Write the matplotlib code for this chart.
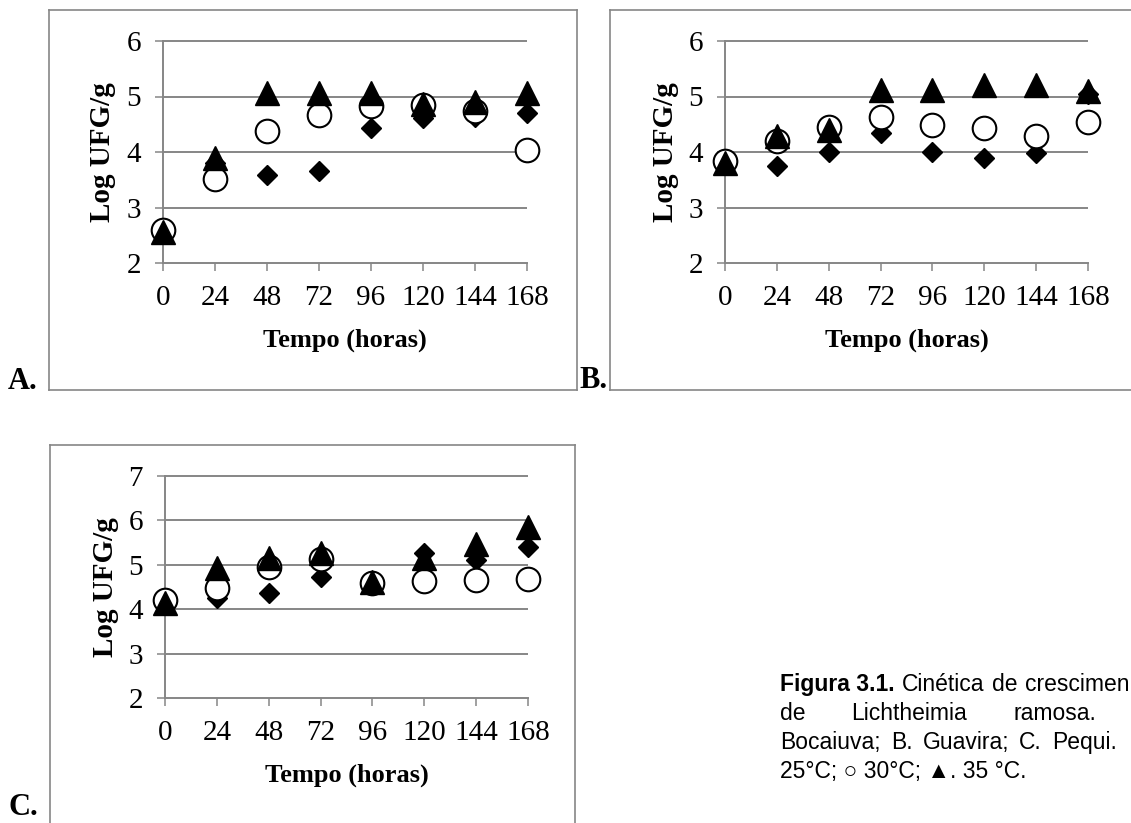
import matplotlib
matplotlib.use("Agg")
import matplotlib.pyplot as plt
from matplotlib.lines import Line2D

W, H = 1131, 823
hours = [0, 24, 48, 72, 96, 120, 144, 168]

A_25 = [2.55, 3.80, 3.59, 3.66, 4.43, 4.62, 4.63, 4.71]
A_30 = [2.59, 3.51, 4.38, 4.66, 4.83, 4.84, 4.73, 4.04]
A_35 = [2.55, 3.90, 5.07, 5.07, 5.07, 4.87, 4.90, 5.07]

B_25 = [3.80, 3.75, 4.00, 4.35, 4.00, 3.89, 3.98, 5.05]
B_30 = [3.83, 4.20, 4.45, 4.63, 4.48, 4.43, 4.29, 4.54]
B_35 = [3.80, 4.28, 4.40, 5.12, 5.12, 5.20, 5.20, 5.10]

C_25 = [4.20, 4.25, 4.36, 4.73, 4.60, 5.26, 5.11, 5.41]
C_30 = [4.20, 4.47, 4.96, 5.13, 4.59, 4.64, 4.66, 4.67]
C_35 = [4.15, 4.92, 5.15, 5.26, 4.62, 5.15, 5.47, 5.86]

A_yticks = [2, 3, 4, 5, 6]
B_yticks = [2, 3, 4, 5, 6]
C_yticks = [2, 3, 4, 5, 6, 7]

x_title = "Tempo (horas)"
y_title = "Log UFG/g"

GRAY = "#868686"
SERIF = "Liberation Serif"
SANS = ["Liberation Sans", "DejaVu Sans"]

fig = plt.figure(figsize=(W / 100, H / 100), dpi=100)


def rect(l, r, t, b):
    return [l / W, 1 - b / H, (r - l) / W, (b - t) / H]


def fx(x):
    return x / W


def fy(y):
    return 1 - y / H


def panel(pos, s25, s30, s35, yticks):
    ax = fig.add_axes(rect(*pos))
    ax.set_xlim(hours[0], hours[-1])
    ax.set_ylim(yticks[0], yticks[-1])
    ax.set_facecolor("none")
    for sp in ("top", "right"):
        ax.spines[sp].set_visible(False)
    for sp in ("left", "bottom"):
        ax.spines[sp].set_color(GRAY)
        ax.spines[sp].set_linewidth(1.4)
    ax.hlines(yticks[1:], hours[0], hours[-1], colors=GRAY, linewidth=1.4,
              clip_on=False, zorder=1)
    ax.set_xticks(hours)
    ax.set_xticklabels([str(h) for h in hours])
    ax.set_yticks(yticks)
    ax.set_yticklabels([str(v) for v in yticks])
    ax.tick_params(axis="both", direction="out", length=6, width=1.1,
                   color=GRAY, labelsize=21, labelcolor="black")
    ax.tick_params(axis="x", pad=10)
    ax.tick_params(axis="y", pad=10)
    for lab in ax.get_xticklabels() + ax.get_yticklabels():
        lab.set_fontfamily(SERIF)
    ax.plot(hours, s25, linestyle="none", marker="D", markersize=10.5,
            color="black", clip_on=False, zorder=3)
    ax.plot(hours, s30, linestyle="none", marker="o", markersize=17,
            markerfacecolor="white", markeredgecolor="black",
            markeredgewidth=1.5, clip_on=False, zorder=4)
    ax.plot(hours, s35, linestyle="none", marker="^", markersize=17,
            color="black", clip_on=False, zorder=5)
    ax.set_xlabel(x_title, fontfamily=SERIF, fontweight="bold", fontsize=19,
                  va="center")
    ax.xaxis.set_label_coords(0.5, -0.347)
    ax.set_ylabel(y_title, fontfamily=SERIF, fontweight="bold", fontsize=21,
                  va="center")
    ax.yaxis.set_label_coords(-0.165, 0.5)
    return ax


panel((163, 527, 41, 263), A_25, A_30, A_35, A_yticks)
panel((725, 1088, 41, 263), B_25, B_30, B_35, B_yticks)
panel((165, 528, 476, 698), C_25, C_30, C_35, C_yticks)


# chart-area frames
def frame(segments):
    for (x0, y0), (x1, y1) in segments:
        fig.add_artist(Line2D([fx(x0), fx(x1)], [fy(y0), fy(y1)],
                              color=GRAY, linewidth=1.2,
                              transform=fig.transFigure))


frame([((49, 10), (577, 10)), ((577, 10), (577, 390)),
       ((577, 390), (49, 390)), ((49, 390), (49, 10))])
frame([((610, 10), (1135, 10)), ((610, 390), (1135, 390)),
       ((610, 10), (610, 390))])
frame([((50, 445), (575, 445)), ((575, 445), (575, 830)),
       ((50, 445), (50, 830))])

# panel letters
for txt, x, y in (("A.", 8, 389), ("B.", 579, 388), ("C.", 9, 815)):
    fig.text(fx(x), fy(y), txt, fontfamily=SERIF, fontweight="bold",
             fontsize=22, ha="left", va="baseline")

# caption: justified lines laid out with measured word widths
cap_size = 16.5
cap_left = 780
renderer = fig.canvas.get_renderer()


def caption_line(words, base, right=None):
    texts = []
    widths = []
    for w, wt in words:
        t = fig.text(fx(cap_left), fy(base), w, family=SANS, fontweight=wt,
                     fontsize=cap_size, ha="left", va="baseline")
        texts.append(t)
        widths.append(t.get_window_extent(renderer).width)
    sp = fig.text(0, 0, " ", family=SANS, fontsize=cap_size)
    space = cap_size * 100 / 72 * 0.278
    sp.remove()
    n = len(words) - 1
    if right is None or n == 0:
        gap = space
    else:
        gap = (right - cap_left - sum(widths)) / n
    x = cap_left
    for t, wd in zip(texts, widths):
        t.set_x(fx(x))
        x += wd + gap


caption_line([("Figura 3.1.", "bold"), ("Cinética", "normal"),
              ("de", "normal"), ("crescimen", "normal")], 691, right=1129)
caption_line([("de", "normal"), ("Lichtheimia", "normal"),
              ("ramosa.", "normal")], 720, right=1096)
caption_line([("Bocaiuva;", "normal"), ("B.", "normal"),
              ("Guavira;", "normal"), ("C.", "normal"),
              ("Pequi.", "normal")], 749, right=1117)
caption_line([("25°C; ○ 30°C; ▲. 35 °C.", "normal")], 778)

fig.savefig("out.png", dpi=100)
